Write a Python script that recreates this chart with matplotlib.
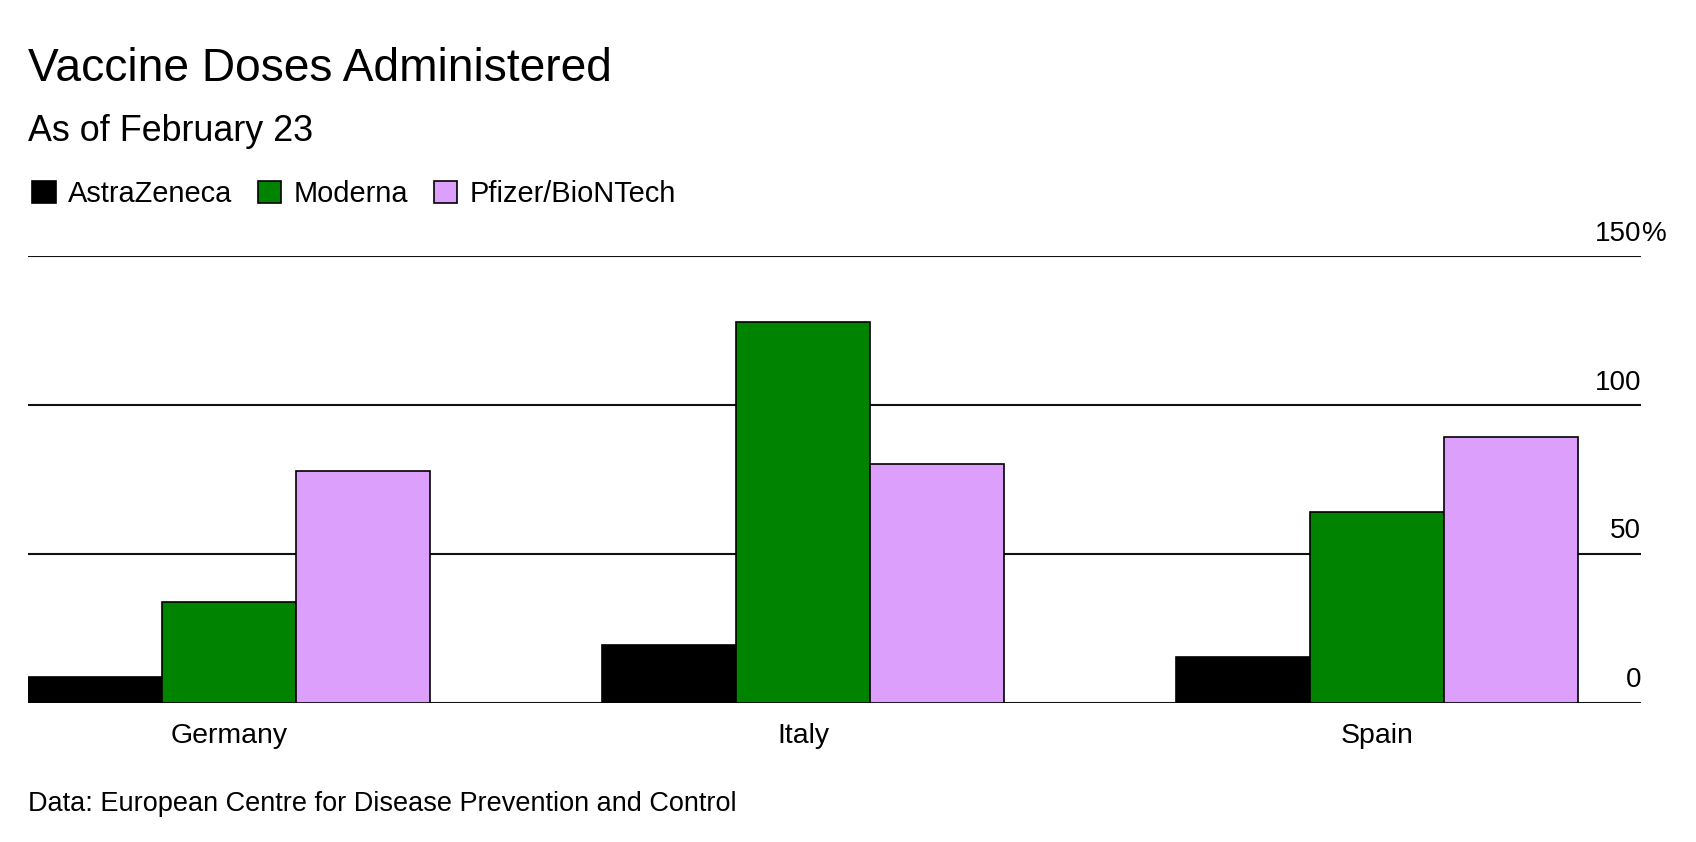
import matplotlib

matplotlib.use("Agg")
import matplotlib.pyplot as plt
import numpy as np

plt.rcParams["font.family"] = ["Liberation Sans", "DejaVu Sans"]

# Share of delivered doses administered (%)
countries = ["Germany", "Italy", "Spain"]
vaccines = ["AstraZeneca", "Moderna", "Pfizer/BioNTech"]
astrazeneca = [8.6, 19.6, 15.5]
moderna = [34.0, 128.0, 64.2]
pfizer = [78.0, 80.4, 89.3]
y_ticks = [0, 50, 100, 150]

colors = ["#000000", "#008400", "#dca0fc"]

fig = plt.figure(figsize=(16.96, 8.42), dpi=100)
ax = fig.add_axes([0.0165, 0.1651, 0.9511, 0.5303])

x = np.arange(len(countries))
w = 0.2337
handles = []
for i, (vals, c) in enumerate(zip([astrazeneca, moderna, pfizer], colors)):
    b = ax.bar(x + (i - 1) * w, vals, width=w, color=c, edgecolor="black",
               linewidth=1.2, label=vaccines[i], zorder=3)
    handles.append(b)

ax.set_xlim(-1.5 * w, 2.4605)
ax.set_ylim(0, 150)

for s in ax.spines.values():
    s.set_visible(False)

# horizontal gridlines, labels sit just above them at the right edge
ax.set_yticks(y_ticks)
ax.yaxis.grid(True, color="#111111", linewidth=1.5, zorder=0)
ax.tick_params(axis="y", left=False, labelleft=False)
ytr = ax.get_yaxis_transform()
for t in y_ticks:
    ax.annotate(str(t), (1.0, t), xycoords=ytr, xytext=(0, 7),
                textcoords="offset points", ha="right", va="bottom", fontsize=20)
ax.annotate("%", (1.0, y_ticks[-1]), xycoords=ytr, xytext=(1, 7),
            textcoords="offset points", ha="left", va="bottom", fontsize=20)

ax.set_xticks(x)
ax.set_xticklabels(countries, fontsize=20.5)
ax.tick_params(axis="x", bottom=False, pad=11)

fig.text(0.0165, 0.904, "Vaccine Doses Administered", fontsize=33.2,
         ha="left", va="baseline")
fig.text(0.0165, 0.833, "As of February 23", fontsize=25.8,
         ha="left", va="baseline")
fig.text(0.0165, 0.037, "Data: European Centre for Disease Prevention and Control",
         fontsize=19.5, ha="left", va="baseline")

fig.legend(handles=handles, loc="center left", bbox_to_anchor=(0.0191, 0.7695),
           ncol=3, frameon=False, fontsize=20.9, borderpad=0, borderaxespad=0,
           handlelength=0.8, handleheight=0.8, handletextpad=0.41,
           columnspacing=0.91)

fig.savefig("out.png", dpi=100)
